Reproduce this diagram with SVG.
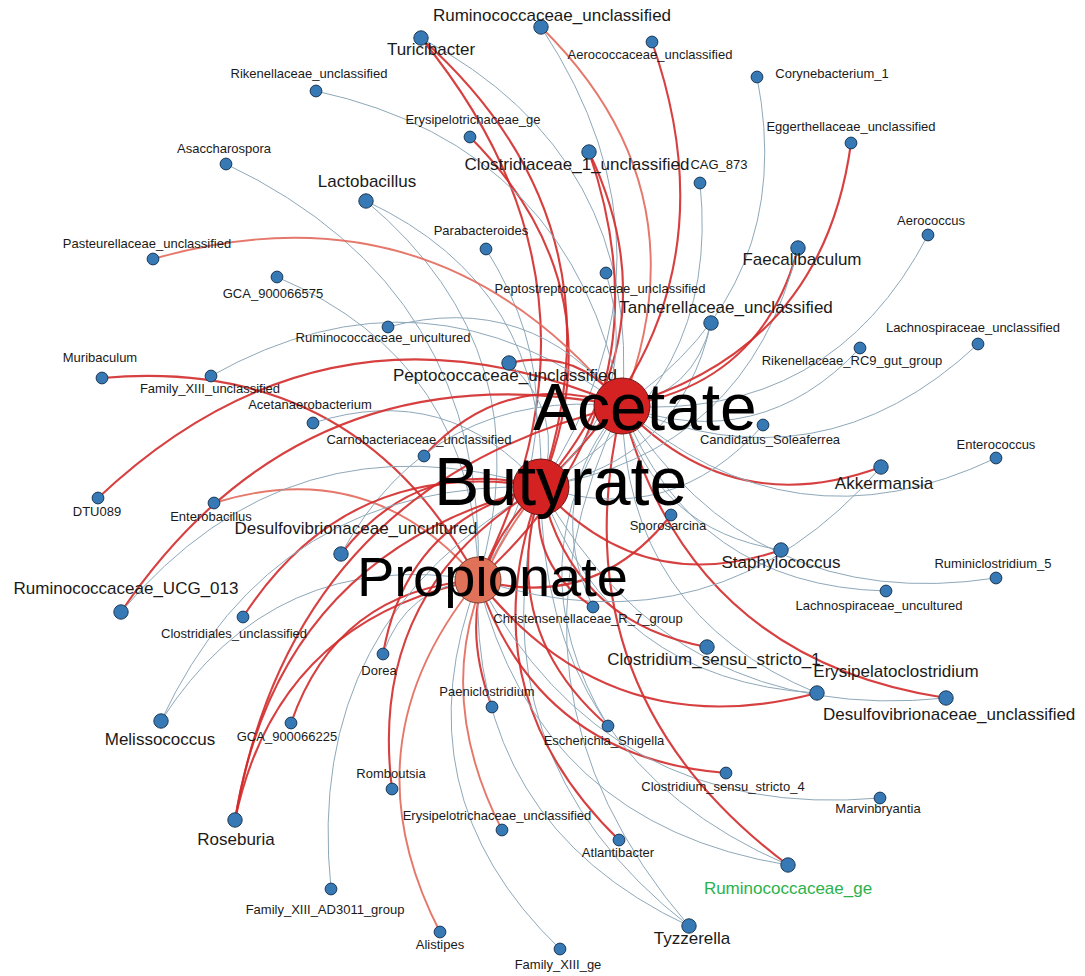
<svg xmlns="http://www.w3.org/2000/svg" width="1085" height="976" viewBox="0 0 1085 976">
<style>
.er{fill:none;stroke:#d32b2b;stroke-width:2.1;stroke-opacity:.9}
.el{fill:none;stroke:#e2685b;stroke-width:1.9;stroke-opacity:.9}
.eb{fill:none;stroke:#8ea8b9;stroke-width:1}
.n{fill:#3679b5;stroke:#1d3a57;stroke-width:1}
.h1{fill:#d42222;stroke:#6e1515;stroke-width:1}
.h2{fill:#e07259;stroke:#7b3d2f;stroke-width:1}
text{font-family:"Liberation Sans",Arial,sans-serif;fill:#1a1a1a;text-anchor:middle}
.s{font-size:13px}
.l{font-size:17px}
.g{fill:#2bb24c}
.hub{font-size:66px;fill:#000;text-anchor:start}
</style>
<rect width="1085" height="976" fill="#fff"/>
<g id="edges">
<path class="el" d="M541,27 Q707,190 622,406"/>
<path class="eb" d="M541,27 Q693,257 541,487"/>
<path class="eb" d="M421,38 Q643,156 622,406"/>
<path class="er" d="M421,38 Q629,223 541,487"/>
<path class="er" d="M421,38 Q628,290 478,580"/>
<path class="er" d="M652,42 Q743,301 541,487"/>
<path class="er" d="M470,137 Q621,289 541,487"/>
<path class="er" d="M589,152 Q676,335 541,487"/>
<path class="er" d="M589,152 Q675,403 478,580"/>
<path class="eb" d="M700,183 Q721,387 541,487"/>
<path class="eb" d="M757,77 Q798,286 622,406"/>
<path class="eb" d="M316,91 Q573,147 622,406"/>
<path class="eb" d="M226,164 Q489,289 478,580"/>
<path class="eb" d="M366,201 Q548,286 541,487"/>
<path class="eb" d="M366,201 Q547,353 478,580"/>
<path class="eb" d="M486,249 Q591,417 478,580"/>
<path class="el" d="M153,259 Q436,178 622,406"/>
<path class="eb" d="M277,277 Q477,362 478,580"/>
<path class="eb" d="M388,327 Q531,289 622,406"/>
<path class="er" d="M102,378 Q357,355 478,580"/>
<path class="eb" d="M211,376 Q426,255 622,406"/>
<path class="er" d="M98,498 Q330,279 622,406"/>
<path class="eb" d="M313,423 Q448,380 541,487"/>
<path class="er" d="M509,363 Q580,347 622,406"/>
<path class="eb" d="M509,363 Q566,414 541,487"/>
<path class="er" d="M424,456 Q506,366 622,406"/>
<path class="el" d="M214,503 Q371,454 478,580"/>
<path class="er" d="M121,612 Q303,344 622,406"/>
<path class="eb" d="M121,612 Q290,411 541,487"/>
<path class="er" d="M341,554 Q419,454 541,487"/>
<path class="eb" d="M341,554 Q433,387 622,406"/>
<path class="er" d="M243,617 Q349,454 541,487"/>
<path class="eb" d="M161,721 Q273,546 478,580"/>
<path class="eb" d="M161,721 Q274,479 541,487"/>
<path class="er" d="M291,723 Q337,590 478,580"/>
<path class="er" d="M235,820 Q292,485 622,406"/>
<path class="er" d="M235,820 Q278,552 541,487"/>
<path class="er" d="M235,820 Q277,620 478,580"/>
<path class="eb" d="M331,889 Q303,619 541,487"/>
<path class="er" d="M383,654 Q407,518 541,487"/>
<path class="eb" d="M383,654 Q406,586 478,580"/>
<path class="er" d="M392,789 Q367,589 541,487"/>
<path class="er" d="M492,707 Q444,581 541,487"/>
<path class="eb" d="M689,926 Q469,823 478,580"/>
<path class="eb" d="M689,926 Q470,755 541,487"/>
<path class="eb" d="M689,926 Q484,688 622,406"/>
<path class="el" d="M440,932 Q343,744 478,580"/>
<path class="eb" d="M560,949 Q397,792 478,580"/>
<path class="el" d="M502,830 Q408,646 541,487"/>
<path class="er" d="M619,840 Q464,689 541,487"/>
<path class="er" d="M608,726 Q496,629 541,487"/>
<path class="eb" d="M608,726 Q509,561 622,406"/>
<path class="er" d="M726,773 Q538,758 478,580"/>
<path class="eb" d="M880,798 Q607,822 478,580"/>
<path class="er" d="M788,865 Q554,690 622,406"/>
<path class="eb" d="M788,865 Q540,758 541,487"/>
<path class="eb" d="M788,865 Q539,825 478,580"/>
<path class="er" d="M946,698 Q688,659 622,406"/>
<path class="eb" d="M946,698 Q674,726 541,487"/>
<path class="er" d="M817,693 Q610,748 478,580"/>
<path class="eb" d="M817,693 Q611,681 541,487"/>
<path class="eb" d="M817,693 Q625,614 622,406"/>
<path class="er" d="M707,647 Q571,622 541,487"/>
<path class="er" d="M781,550 Q640,598 541,487"/>
<path class="eb" d="M781,550 Q654,530 622,406"/>
<path class="er" d="M881,467 Q731,522 622,406"/>
<path class="eb" d="M881,467 Q717,656 478,580"/>
<path class="eb" d="M996,458 Q792,555 622,406"/>
<path class="eb" d="M996,578 Q752,615 622,406"/>
<path class="eb" d="M886,591 Q693,586 622,406"/>
<path class="eb" d="M978,344 Q820,492 622,406"/>
<path class="eb" d="M860,348 Q760,455 622,406"/>
<path class="eb" d="M928,235 Q831,421 622,406"/>
<path class="eb" d="M763,425 Q672,529 541,487"/>
<path class="er" d="M671,515 Q596,611 478,580"/>
<path class="er" d="M593,607 Q527,564 541,487"/>
<path class="eb" d="M593,607 Q541,497 622,406"/>
<path class="eb" d="M711,323 Q694,394 622,406"/>
<path class="eb" d="M711,323 Q680,461 541,487"/>
<path class="er" d="M798,248 Q762,385 622,406"/>
<path class="eb" d="M798,248 Q748,452 541,487"/>
<path class="er" d="M851,143 Q823,350 622,406"/>
<path class="eb" d="M606,273 Q644,401 541,487"/>
</g>
<g id="n-ruminococcaceae-unclassified"><circle class="n" cx="541" cy="27" r="7.2"/><text class="l" x="552" y="21">Ruminococcaceae_unclassified</text></g>
<g id="n-turicibacter"><circle class="n" cx="421" cy="38" r="7.2"/><text class="l" x="431" y="55">Turicibacter</text></g>
<g id="n-aerococcaceae-unclassified"><circle class="n" cx="652" cy="42" r="5.9"/><text class="s" x="650" y="59">Aerococcaceae_unclassified</text></g>
<g id="n-erysipelotrichaceae-ge"><circle class="n" cx="470" cy="137" r="5.9"/><text class="s" x="473" y="124">Erysipelotrichaceae_ge</text></g>
<g id="n-clostridiaceae-1-unclassified"><circle class="n" cx="589" cy="152" r="7.2"/><text class="l" x="577" y="170">Clostridiaceae_1_unclassified</text></g>
<g id="n-cag-873"><circle class="n" cx="700" cy="183" r="5.9"/><text class="s" x="719" y="169">CAG_873</text></g>
<g id="n-parabacteroides"><circle class="n" cx="486" cy="249" r="5.9"/><text class="s" x="481" y="235">Parabacteroides</text></g>
<g id="n-peptostreptococcaceae-unclassified"><circle class="n" cx="606" cy="273" r="5.9"/><text class="s" x="600" y="293">Peptostreptococcaceae_unclassified</text></g>
<g id="n-tannerellaceae-unclassified"><circle class="n" cx="711" cy="323" r="7.2"/><text class="l" x="726" y="313">Tannerellaceae_unclassified</text></g>
<g id="n-corynebacterium-1"><circle class="n" cx="757" cy="77" r="5.9"/><text class="s" x="832" y="78">Corynebacterium_1</text></g>
<g id="n-eggerthellaceae-unclassified"><circle class="n" cx="851" cy="143" r="5.9"/><text class="s" x="851" y="131">Eggerthellaceae_unclassified</text></g>
<g id="n-aerococcus"><circle class="n" cx="928" cy="235" r="5.9"/><text class="s" x="931" y="225">Aerococcus</text></g>
<g id="n-faecalibaculum"><circle class="n" cx="798" cy="248" r="7.2"/><text class="l" x="802" y="265">Faecalibaculum</text></g>
<g id="n-lachnospiraceae-unclassified"><circle class="n" cx="978" cy="344" r="5.9"/><text class="s" x="973" y="332">Lachnospiraceae_unclassified</text></g>
<g id="n-rikenellaceae-rc9"><circle class="n" cx="860" cy="348" r="5.9"/><text class="s" x="852" y="365">Rikenellaceae_RC9_gut_group</text></g>
<g id="n-candidatus-soleaferrea"><circle class="n" cx="763" cy="425" r="5.9"/><text class="s" x="770" y="444">Candidatus_Soleaferrea</text></g>
<g id="n-enterococcus"><circle class="n" cx="996" cy="458" r="5.9"/><text class="s" x="996" y="449">Enterococcus</text></g>
<g id="n-akkermansia"><circle class="n" cx="881" cy="467" r="7.2"/><text class="l" x="884" y="489">Akkermansia</text></g>
<g id="n-staphylococcus"><circle class="n" cx="781" cy="550" r="7.2"/><text class="l" x="781" y="568">Staphylococcus</text></g>
<g id="n-ruminiclostridium-5"><circle class="n" cx="996" cy="578" r="5.9"/><text class="s" x="993" y="568">Ruminiclostridium_5</text></g>
<g id="n-lachnospiraceae-uncultured"><circle class="n" cx="886" cy="591" r="5.9"/><text class="s" x="879" y="610">Lachnospiraceae_uncultured</text></g>
<g id="n-sporosarcina"><circle class="n" cx="671" cy="515" r="5.9"/><text class="s" x="668" y="530">Sporosarcina</text></g>
<g id="n-christensenellaceae"><circle class="n" cx="593" cy="607" r="5.9"/><text class="s" x="588" y="623">Christensenellaceae_R_7_group</text></g>
<g id="n-clostridium-ss1"><circle class="n" cx="707" cy="647" r="7.2"/><text class="l" x="714" y="665">Clostridium_sensu_stricto_1</text></g>
<g id="n-erysipelatoclostridium"><circle class="n" cx="817" cy="693" r="7.2"/><text class="l" x="896" y="677">Erysipelatoclostridium</text></g>
<g id="n-desulfovibrionaceae-unclassified"><circle class="n" cx="946" cy="698" r="7.2"/><text class="l" x="823" y="720" style="text-anchor:start">Desulfovibrionaceae_unclassified</text></g>
<g id="n-marvinbryantia"><circle class="n" cx="880" cy="798" r="5.9"/><text class="s" x="878" y="813">Marvinbryantia</text></g>
<g id="n-clostridium-ss4"><circle class="n" cx="726" cy="773" r="5.9"/><text class="s" x="723" y="791">Clostridium_sensu_stricto_4</text></g>
<g id="n-ruminococcaceae-ge"><circle class="n" cx="788" cy="865" r="7.2"/><text class="l g" x="788" y="894">Ruminococcaceae_ge</text></g>
<g id="n-tyzzerella"><circle class="n" cx="689" cy="926" r="7.2"/><text class="l" x="692" y="944">Tyzzerella</text></g>
<g id="n-atlantibacter"><circle class="n" cx="619" cy="840" r="5.9"/><text class="s" x="618" y="857">Atlantibacter</text></g>
<g id="n-escherichia-shigella"><circle class="n" cx="608" cy="726" r="5.9"/><text class="s" x="604" y="745">Escherichia_Shigella</text></g>
<g id="n-paeniclostridium"><circle class="n" cx="492" cy="707" r="5.9"/><text class="s" x="487" y="696">Paeniclostridium</text></g>
<g id="n-romboutsia"><circle class="n" cx="392" cy="789" r="5.9"/><text class="s" x="391" y="778">Romboutsia</text></g>
<g id="n-erysipelotrichaceae-unclassified"><circle class="n" cx="502" cy="830" r="5.9"/><text class="s" x="497" y="820">Erysipelotrichaceae_unclassified</text></g>
<g id="n-alistipes"><circle class="n" cx="440" cy="932" r="5.9"/><text class="s" x="440" y="949">Alistipes</text></g>
<g id="n-family-xiii-ge"><circle class="n" cx="560" cy="949" r="5.9"/><text class="s" x="558" y="969">Family_XIII_ge</text></g>
<g id="n-dorea"><circle class="n" cx="383" cy="654" r="5.9"/><text class="s" x="379" y="675">Dorea</text></g>
<g id="n-family-xiii-ad3011"><circle class="n" cx="331" cy="889" r="5.9"/><text class="s" x="325" y="914">Family_XIII_AD3011_group</text></g>
<g id="n-roseburia"><circle class="n" cx="235" cy="820" r="7.2"/><text class="l" x="236" y="845">Roseburia</text></g>
<g id="n-gca-900066225"><circle class="n" cx="291" cy="723" r="5.9"/><text class="s" x="287" y="741">GCA_900066225</text></g>
<g id="n-melissococcus"><circle class="n" cx="161" cy="721" r="7.2"/><text class="l" x="160" y="745">Melissococcus</text></g>
<g id="n-clostridiales-unclassified"><circle class="n" cx="243" cy="617" r="5.9"/><text class="s" x="234" y="638">Clostridiales_unclassified</text></g>
<g id="n-ruminococcaceae-ucg-013"><circle class="n" cx="121" cy="612" r="7.2"/><text class="l" x="126" y="594">Ruminococcaceae_UCG_013</text></g>
<g id="n-desulfovibrionaceae-uncultured"><circle class="n" cx="341" cy="554" r="7.2"/><text class="l" x="356" y="534">Desulfovibrionaceae_uncultured</text></g>
<g id="n-enterobacillus"><circle class="n" cx="214" cy="503" r="5.9"/><text class="s" x="211" y="521">Enterobacillus</text></g>
<g id="n-dtu089"><circle class="n" cx="98" cy="498" r="5.9"/><text class="s" x="97" y="516">DTU089</text></g>
<g id="n-muribaculum"><circle class="n" cx="102" cy="378" r="5.9"/><text class="s" x="100" y="362">Muribaculum</text></g>
<g id="n-family-xiii-unclassified"><circle class="n" cx="211" cy="376" r="5.9"/><text class="s" x="210" y="393">Family_XIII_unclassified</text></g>
<g id="n-acetanaerobacterium"><circle class="n" cx="313" cy="423" r="5.9"/><text class="s" x="310" y="409">Acetanaerobacterium</text></g>
<g id="n-carnobacteriaceae-unclassified"><circle class="n" cx="424" cy="456" r="5.9"/><text class="s" x="419" y="444">Carnobacteriaceae_unclassified</text></g>
<g id="n-peptococcaceae-unclassified"><circle class="n" cx="509" cy="363" r="7.2"/><text class="l" x="505" y="381">Peptococcaceae_unclassified</text></g>
<g id="n-ruminococcaceae-uncultured"><circle class="n" cx="388" cy="327" r="5.9"/><text class="s" x="383" y="342">Ruminococcaceae_uncultured</text></g>
<g id="n-gca-900066575"><circle class="n" cx="277" cy="277" r="5.9"/><text class="s" x="273" y="298">GCA_900066575</text></g>
<g id="n-pasteurellaceae-unclassified"><circle class="n" cx="153" cy="259" r="5.9"/><text class="s" x="147" y="248">Pasteurellaceae_unclassified</text></g>
<g id="n-lactobacillus"><circle class="n" cx="366" cy="201" r="7.2"/><text class="l" x="367" y="187">Lactobacillus</text></g>
<g id="n-asaccharospora"><circle class="n" cx="226" cy="164" r="5.9"/><text class="s" x="224" y="153">Asaccharospora</text></g>
<g id="n-rikenellaceae-unclassified"><circle class="n" cx="316" cy="91" r="5.9"/><text class="s" x="309" y="78">Rikenellaceae_unclassified</text></g>
<g id="hub-propionate"><circle class="h2" cx="478" cy="580" r="23"/><text class="hub" x="357" y="596" style="font-size:56px">Propionate</text></g>
<g id="hub-butyrate"><circle class="h1" cx="541" cy="487" r="28"/><text class="hub" x="434" y="505" style="font-size:68px">Butyrate</text></g>
<g id="hub-acetate"><circle class="h1" cx="622" cy="406" r="28"/><text class="hub" x="533" y="430">Acetate</text></g>
</svg>
